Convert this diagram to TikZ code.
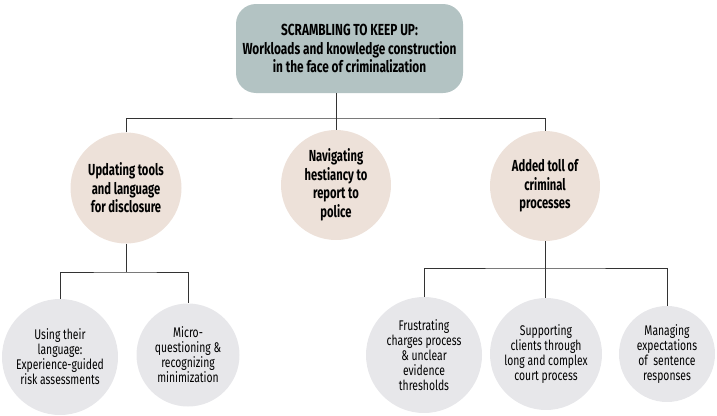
\documentclass[tikz,border=0pt]{standalone}
\usepackage{fontspec}
\setmainfont{Fira Sans}[FakeStretch=0.74]
\newfontfamily\midfont{Fira Sans}[FakeStretch=0.70]
\newfontfamily\lightfont{Fira Sans}[FakeStretch=0.74]
\definecolor{topfill}{HTML}{B3C3C3}
\definecolor{midfill}{HTML}{EDE1D9}
\definecolor{lowfill}{HTML}{E7E7EA}
\definecolor{linecol}{HTML}{333333}
\begin{document}
\begin{tikzpicture}[x=1pt,y=-1pt,
  conn/.style={draw=linecol,line width=0.9pt},
  topbox/.style={fill=topfill,rounded corners=20pt,align=center,font=\fontsize{16}{18.5}\selectfont\bfseries,text=black},
  midcirc/.style={circle,fill=midfill,align=center,font=\midfont\fontsize{16}{18.5}\selectfont\bfseries,inner sep=0pt},
  lowcirc/.style={circle,fill=lowfill,align=center,font=\lightfont\fontsize{14}{15}\selectfont,inner sep=0pt}]
\useasboundingbox (0,0) rectangle (717,415);
% top
\node[topbox,minimum width=227pt,minimum height=89pt] (top) at (349.5,48.5) {SCRAMBLING TO KEEP UP:\\Workloads and knowledge construction\\in the face of criminalization};
% level 2
\node[midcirc,minimum size=111pt] (m1) at (126,188) {Updating tools\\and language\\for disclosure};
\node[midcirc,minimum size=110pt] (m2) at (336,185) {Navigating\\hestiancy to\\report to\\police};
\node[midcirc,minimum size=110pt] (m3) at (545,186) {Added toll of\\criminal\\processes};
% level 3
\node[lowcirc,minimum size=116pt] (l1) at (60,357) {Using their\\language:\\Experience-guided\\risk assessments};
\node[lowcirc,minimum size=103pt] (l2) at (188,355) {Micro-\\questioning \&\\recognizing\\minimization};
\node[lowcirc,minimum size=116pt] (l3) at (424,355) {Frustrating\\charges process\\\& unclear\\evidence\\thresholds};
\node[lowcirc,minimum size=112pt] (l4) at (546,354) {Supporting\\clients through\\long and complex\\court process};
\node[lowcirc,minimum size=96pt] (l5) at (667,354) {Managing\\expectations\\of~ sentence\\responses};
% connectors
\coordinate (j0) at (336,118);
\draw[conn] (top.south -| j0) -- (j0);
\draw[conn] (m1.north) |- (j0) -| (m3.north);
\draw[conn] (j0) -- (m2.north);
\coordinate (j1) at (126,272);
\draw[conn] (m1.south) -- (j1);
\draw[conn] (l1.north) |- (j1) -| (l2.north);
\coordinate (j2) at (545,268);
\draw[conn] (m3.south) -- (j2);
\draw[conn] (l3.north) |- (j2) -| (l5.north);
\draw[conn] (j2) -- (l4.north -| j2);
\end{tikzpicture}
\end{document}
